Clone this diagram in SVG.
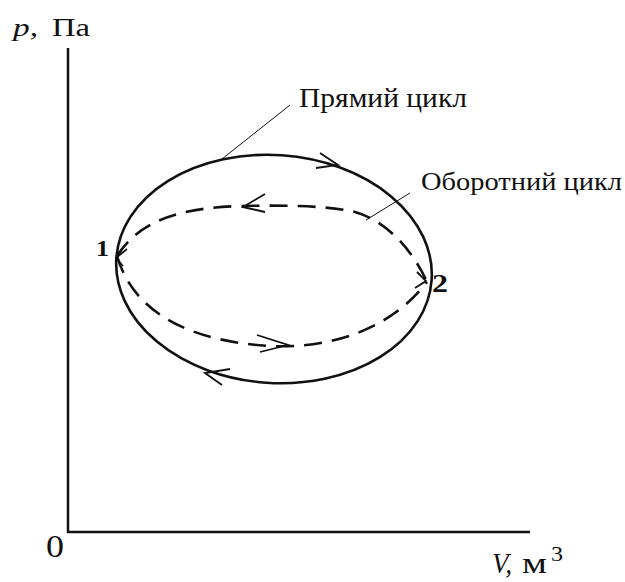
<svg xmlns="http://www.w3.org/2000/svg" width="625" height="582" viewBox="0 0 625 582">
<style>
text{font-family:"Liberation Serif","Times New Roman",serif;fill:#111}
.ax{stroke:#111;stroke-width:2.5;fill:none}
.solid{stroke:#111;stroke-width:2.6;fill:none}
.dash{stroke:#111;stroke-width:2.6;fill:none;stroke-dasharray:18 10}
.ar{stroke:#111;stroke-width:1.8;fill:none}
.lead{stroke:#111;stroke-width:1;fill:none}
</style>
<rect width="625" height="582" fill="#fff"/>
<g id="axes">
<path class="ax" d="M68 48 V532 H530"/>
</g>
<g id="labels">
<text x="13" y="36" font-size="25" font-style="italic" textLength="25" lengthAdjust="spacingAndGlyphs">p,</text>
<text x="52" y="36" font-size="25" textLength="38" lengthAdjust="spacingAndGlyphs">Па</text>
<text x="46" y="557" font-size="31" textLength="18" lengthAdjust="spacingAndGlyphs">0</text>
<text x="492" y="573" font-size="29" font-style="italic" textLength="20" lengthAdjust="spacingAndGlyphs">V,</text>
<text x="522" y="573" font-size="30" textLength="25" lengthAdjust="spacingAndGlyphs">м</text>
<text x="551" y="561" font-size="21" textLength="12" lengthAdjust="spacingAndGlyphs">3</text>
<text x="96" y="256" font-size="24" font-weight="bold" textLength="13" lengthAdjust="spacingAndGlyphs">1</text>
<text x="432" y="292" font-size="25" font-weight="bold" textLength="16" lengthAdjust="spacingAndGlyphs">2</text>
<text x="299" y="107" font-size="27" textLength="168" lengthAdjust="spacingAndGlyphs">Прямий цикл</text>
<text x="421" y="190" font-size="26" textLength="201" lengthAdjust="spacingAndGlyphs">Оборотний цикл</text>
</g>
<g id="direct-cycle">
<ellipse class="solid" cx="274" cy="269" rx="158" ry="114" transform="rotate(4 274 269)"/>
</g>
<g id="reverse-cycle">
<path class="dash" d="M117 256 C140 220 180 208 240 206 C290 205 330 206 355 212 C390 222 415 255 427 282"/>
<path class="dash" d="M117 256 C130 300 170 340 270 346 C330 349 390 330 427 282"/>
</g>
<g id="connectors">
<path class="ar" d="M320 153 L338 165 L316 168"/>
<path class="ar" d="M230 369 L205 373 L222 385"/>
<path class="ar" d="M265 194 L243 207 L265 212"/>
<path class="ar" d="M257 335 L288 345 L260 352"/>
<path class="ar" d="M127 249 L116 258 L123 266"/>
<path class="ar" d="M417 272 L426 281 L415 288"/>
<path class="lead" d="M290 105 L222 159"/>
<path class="lead" d="M410 193 L366 220"/>
</g>
</svg>
